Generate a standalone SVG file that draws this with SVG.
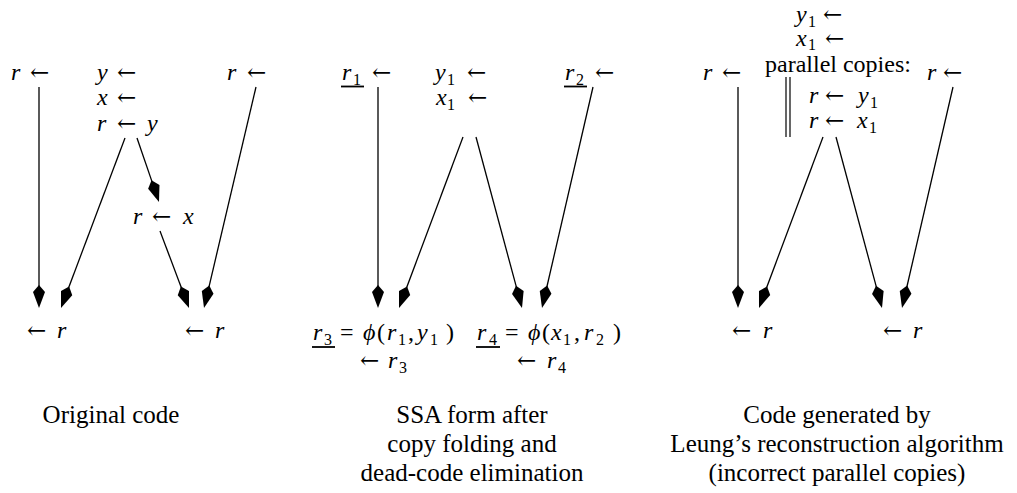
<svg xmlns="http://www.w3.org/2000/svg" width="1017" height="493" viewBox="0 0 1017 493">
<style>
.t{font-family:"Liberation Serif","Times New Roman",serif;font-size:24px;fill:#000}
.i{font-style:italic}
.s{font-size:16px}
.a{font-size:23px;font-family:"DejaVu Serif",serif}
.cap{font-family:"Liberation Serif","Times New Roman",serif;font-size:25px;fill:#000;text-anchor:middle}
.e{stroke:#000;stroke-width:1.3;fill:none;marker-end:url(#kite)}
.u{stroke:#000;stroke-width:1.8}
.b{stroke:#000;stroke-width:1.2}
</style>
<defs>
<marker id="kite" viewBox="-4 -7 25 14" markerWidth="25" markerHeight="14" refX="0" refY="0" orient="auto" markerUnits="userSpaceOnUse">
<path d="M20,0 L4,-6 L-3,0 L4,6 Z" fill="#000"/>
</marker>
</defs>
<rect width="1017" height="493" fill="#fff"/>

<g id="connectors">
<line class="e" x1="39" y1="87" x2="39" y2="288"/>
<line class="e" x1="125" y1="138" x2="68.05" y2="289.28"/>
<line class="e" x1="137" y1="138" x2="152.5" y2="183.09"/>
<line class="e" x1="160" y1="231" x2="181.95" y2="289.28"/>
<line class="e" x1="256" y1="87" x2="208.58" y2="288.53"/>
<line class="e" x1="378" y1="87" x2="378" y2="288"/>
<line class="e" x1="463" y1="137" x2="406.01" y2="289.27"/>
<line class="e" x1="476" y1="137" x2="516.8" y2="288.69"/>
<line class="e" x1="593" y1="87" x2="546.5" y2="288.51"/>
<line class="e" x1="738" y1="87" x2="738" y2="288"/>
<line class="e" x1="823" y1="137" x2="766.01" y2="289.27"/>
<line class="e" x1="836" y1="137" x2="876.8" y2="288.69"/>
<line class="e" x1="953" y1="87" x2="906.5" y2="288.51"/>
</g>

<!-- Left panel: original code -->
<g id="orig-entry-left">
<text class="t"><tspan class="i" x="11" y="80">r</tspan><tspan class="a" x="30" y="80">←</tspan></text>
</g>
<g id="orig-entry-mid">
<text class="t"><tspan class="i" x="97" y="80">y</tspan><tspan class="a" x="117" y="80">←</tspan></text>
<text class="t"><tspan class="i" x="97" y="105">x</tspan><tspan class="a" x="117" y="105">←</tspan></text>
<text class="t"><tspan class="i" x="97" y="131">r</tspan><tspan class="a" x="117" y="131">←</tspan><tspan class="i" x="147" y="131">y</tspan></text>
</g>
<g id="orig-entry-right">
<text class="t"><tspan class="i" x="227" y="80">r</tspan><tspan class="a" x="247" y="80">←</tspan></text>
</g>
<g id="orig-copy-x">
<text class="t"><tspan class="i" x="133" y="224">r</tspan><tspan class="a" x="152" y="224">←</tspan><tspan class="i" x="183" y="224">x</tspan></text>
</g>
<g id="orig-use-left">
<text class="t"><tspan class="a" x="27" y="338">←</tspan><tspan class="i" x="57" y="338">r</tspan></text>
</g>
<g id="orig-use-right">
<text class="t"><tspan class="a" x="185" y="338">←</tspan><tspan class="i" x="215" y="338">r</tspan></text>
</g>
<g id="caption-orig">
<text class="cap" x="111" y="423">Original code</text>
</g>

<!-- Middle panel: SSA form -->
<g id="ssa-entry-left">
<text class="t"><tspan class="i" x="342" y="80">r</tspan><tspan class="s" x="353" y="85">1</tspan><tspan class="a" x="372" y="80">←</tspan></text>
<line class="u" x1="341" y1="86.5" x2="364" y2="86.5"/>
</g>
<g id="ssa-entry-mid">
<text class="t"><tspan class="i" x="435" y="80">y</tspan><tspan class="s" x="447" y="85">1</tspan><tspan class="a" x="467" y="80">←</tspan></text>
<text class="t"><tspan class="i" x="436" y="105">x</tspan><tspan class="s" x="447" y="110">1</tspan><tspan class="a" x="468" y="105">←</tspan></text>
</g>
<g id="ssa-entry-right">
<text class="t"><tspan class="i" x="565" y="80">r</tspan><tspan class="s" x="576" y="85">2</tspan><tspan class="a" x="595" y="80">←</tspan></text>
<line class="u" x1="564" y1="86.5" x2="587" y2="86.5"/>
</g>
<g id="ssa-phi-left">
<text class="t"><tspan class="i" x="313" y="340">r</tspan><tspan class="s" x="324" y="345">3</tspan><tspan x="340" y="340">=</tspan><tspan class="i" x="363" y="340">ϕ</tspan><tspan x="377" y="340">(</tspan><tspan class="i" x="387" y="340">r</tspan><tspan class="s" x="398" y="345">1</tspan><tspan x="408" y="340">,</tspan><tspan class="i" x="417" y="340">y</tspan><tspan class="s" x="430" y="345">1</tspan><tspan x="446" y="340">)</tspan></text>
<line class="u" x1="312" y1="347" x2="335" y2="347"/>
<text class="t"><tspan class="a" x="360" y="368">←</tspan><tspan class="i" x="388" y="368">r</tspan><tspan class="s" x="399" y="373">3</tspan></text>
</g>
<g id="ssa-phi-right">
<text class="t"><tspan class="i" x="477" y="340">r</tspan><tspan class="s" x="489" y="345">4</tspan><tspan x="505" y="340">=</tspan><tspan class="i" x="528" y="340">ϕ</tspan><tspan x="542" y="340">(</tspan><tspan class="i" x="551" y="340">x</tspan><tspan class="s" x="563" y="345">1</tspan><tspan x="574" y="340">,</tspan><tspan class="i" x="584" y="340">r</tspan><tspan class="s" x="596" y="345">2</tspan><tspan x="613" y="340">)</tspan></text>
<line class="u" x1="476" y1="347" x2="500" y2="347"/>
<text class="t"><tspan class="a" x="517" y="368">←</tspan><tspan class="i" x="547" y="368">r</tspan><tspan class="s" x="558" y="373">4</tspan></text>
</g>
<g id="caption-ssa">
<text class="cap" x="472" y="423">SSA form after</text>
<text class="cap" x="472" y="452">copy folding and</text>
<text class="cap" x="472" y="481">dead-code elimination</text>
</g>

<!-- Right panel: Leung's reconstruction -->
<g id="leung-entry-left">
<text class="t"><tspan class="i" x="703" y="80">r</tspan><tspan class="a" x="722" y="80">←</tspan></text>
</g>
<g id="leung-entry-mid">
<text class="t"><tspan class="i" x="796" y="22">y</tspan><tspan class="s" x="808" y="27">1</tspan><tspan class="a" x="823" y="22">←</tspan></text>
<text class="t"><tspan class="i" x="796" y="46">x</tspan><tspan class="s" x="808" y="50">1</tspan><tspan class="a" x="825" y="46">←</tspan></text>
<text class="t" x="765" y="72">parallel copies:</text>
<line class="b" x1="786" y1="77" x2="786" y2="137"/>
<line class="b" x1="790" y1="77" x2="790" y2="137"/>
<text class="t"><tspan class="i" x="809" y="103">r</tspan><tspan class="a" x="825" y="103">←</tspan><tspan class="i" x="858" y="103">y</tspan><tspan class="s" x="870" y="108">1</tspan></text>
<text class="t"><tspan class="i" x="809" y="128">r</tspan><tspan class="a" x="825" y="128">←</tspan><tspan class="i" x="857" y="128">x</tspan><tspan class="s" x="869" y="133">1</tspan></text>
</g>
<g id="leung-entry-right">
<text class="t"><tspan class="i" x="927" y="80">r</tspan><tspan class="a" x="943" y="80">←</tspan></text>
</g>
<g id="leung-use-left">
<text class="t"><tspan class="a" x="732" y="338">←</tspan><tspan class="i" x="763" y="338">r</tspan></text>
</g>
<g id="leung-use-right">
<text class="t"><tspan class="a" x="883" y="338">←</tspan><tspan class="i" x="913" y="338">r</tspan></text>
</g>
<g id="caption-leung">
<text class="cap" x="837" y="423">Code generated by</text>
<text class="cap" x="837" y="452">Leung’s reconstruction algorithm</text>
<text class="cap" x="837" y="481">(incorrect parallel copies)</text>
</g>
</svg>
